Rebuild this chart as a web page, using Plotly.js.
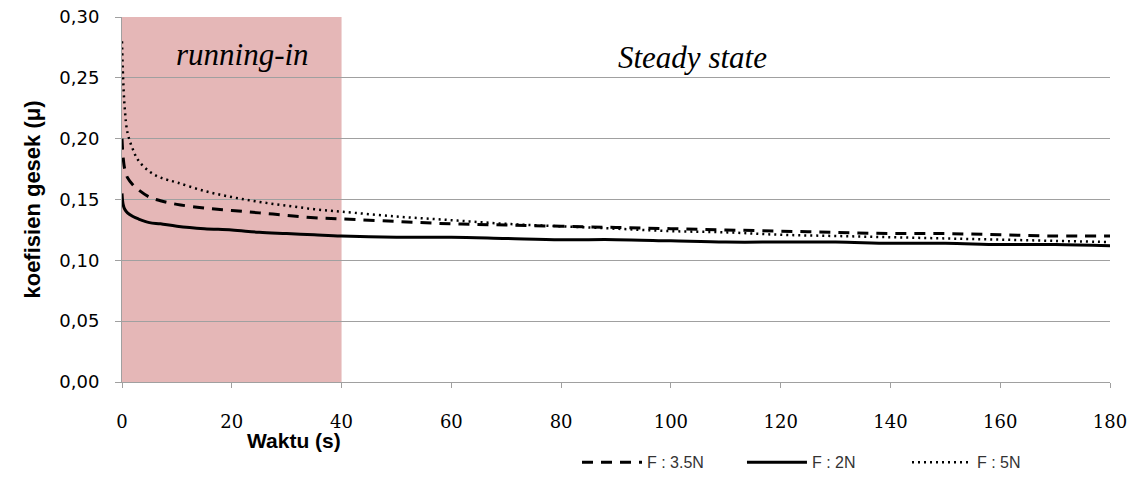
<!DOCTYPE html>
<html>
<head>
<meta charset="utf-8">
<script src="https://cdn.plot.ly/plotly-3.0.1.min.js"></script>
<style>html,body{margin:0;padding:0;background:#fff}#chart{width:1137px;height:480px}</style>
</head>
<body>
<div id="chart"></div>
<script>
const waktu = [0, 0.2, 0.5, 1, 2, 3, 5, 7, 10, 15, 20, 25, 30, 35, 40, 50, 60, 70, 80, 90, 100, 110, 120, 130, 140, 150, 160, 170, 180];
const f2N   = [0.155, 0.146, 0.142, 0.139, 0.136, 0.134, 0.131, 0.130, 0.128, 0.126, 0.125, 0.123, 0.122, 0.121, 0.120, 0.119, 0.119, 0.118, 0.117, 0.117, 0.116, 0.115, 0.115, 0.115, 0.114, 0.114, 0.113, 0.113, 0.112];
const f35N  = [0.200, 0.185, 0.175, 0.168, 0.162, 0.158, 0.152, 0.149, 0.146, 0.143, 0.141, 0.139, 0.137, 0.135, 0.134, 0.132, 0.130, 0.129, 0.128, 0.127, 0.126, 0.125, 0.124, 0.123, 0.122, 0.122, 0.121, 0.120, 0.120];
const f5N   = [0.280, 0.250, 0.225, 0.205, 0.191, 0.182, 0.173, 0.168, 0.164, 0.157, 0.152, 0.148, 0.145, 0.142, 0.140, 0.136, 0.133, 0.130, 0.128, 0.126, 0.124, 0.123, 0.121, 0.120, 0.119, 0.118, 0.117, 0.116, 0.115];
const seriesNames = ["F : 3.5N", "F : 2N", "F : 5N"];
const yTickVals = [0, 0.05, 0.10, 0.15, 0.20, 0.25, 0.30];
const yTickText = ["0,00", "0,05", "0,10", "0,15", "0,20", "0,25", "0,30"];
const xTickVals = [0, 20, 40, 60, 80, 100, 120, 140, 160, 180];
const runInEnd = 40;

const traces = [
  {x: waktu, y: f35N, name: seriesNames[0], mode: "lines", line: {color: "#000", width: 3, dash: "11px,8px", shape: "spline"}},
  {x: waktu, y: f2N, name: seriesNames[1], mode: "lines", line: {color: "#000", width: 3, shape: "spline"}},
  {x: waktu, y: f5N, name: seriesNames[2], mode: "lines", line: {color: "#000", width: 2.5, dash: "2px,4px", shape: "spline"}}
];

const layout = {
  width: 1137, height: 480,
  margin: {l: 122, r: 27, t: 17, b: 98, autoexpand: false},
  paper_bgcolor: "#fff", plot_bgcolor: "#fff",
  showlegend: true,
  legend: {orientation: "h", x: 0.4605, y: -0.22, xanchor: "left", yanchor: "middle",
           font: {family: "Liberation Sans, Arial, sans-serif", size: 16, color: "#333"},
           itemwidth: 60, entrywidth: 90, entrywidthmode: "pixels", tracegroupgap: 0, bgcolor: "rgba(0,0,0,0)"},
  xaxis: {range: [0, 180], tickvals: xTickVals, showgrid: false, zeroline: false,
          showline: true, linecolor: "#a0a0a0", linewidth: 1,
          ticks: "outside", ticklen: 5, tickcolor: "#a0a0a0",
          ticklabelstandoff: 18,
          tickfont: {family: "DejaVu Serif", size: 18, color: "#000"}},
  yaxis: {range: [0, 0.30], tickvals: yTickVals, ticktext: yTickText,
          showgrid: true, gridcolor: "#a0a0a0", gridwidth: 1, zeroline: false,
          showline: true, linecolor: "#a0a0a0", linewidth: 1,
          ticks: "outside", ticklen: 6, tickcolor: "#a0a0a0",
          ticklabelstandoff: 12,
          tickfont: {family: "DejaVu Sans", size: 18, color: "#000"},
          title: {text: "koefisien gesek (μ)", standoff: 12,
                  font: {family: "Liberation Sans, Arial, sans-serif", size: 22, color: "#000", weight: "bold"}}},
  shapes: [
    {type: "rect", xref: "x", yref: "paper", x0: 0, x1: runInEnd, y0: 0, y1: 1,
     fillcolor: "#e5b7b7", line: {width: 0}, layer: "below"}
  ],
  annotations: [
    {text: "running-in", x: 22, y: 0.269, xref: "x", yref: "y", showarrow: false,
     font: {family: "Liberation Serif, Times New Roman, serif", size: 31, color: "#000", style: "italic"}},
    {text: "Steady state", x: 104, y: 0.267, xref: "x", yref: "y", showarrow: false,
     font: {family: "Liberation Serif, Times New Roman, serif", size: 31, color: "#000", style: "italic"}},
    {text: "<b>Waktu (s)</b>", x: 0.174, y: -0.16, xref: "paper", yref: "paper", xanchor: "center", yanchor: "middle", showarrow: false,
     font: {family: "Liberation Sans, Arial, sans-serif", size: 21, color: "#000"}}
  ]
};

Plotly.newPlot("chart", traces, layout, {displayModeBar: false, staticPlot: true});
</script>
</body>
</html>
